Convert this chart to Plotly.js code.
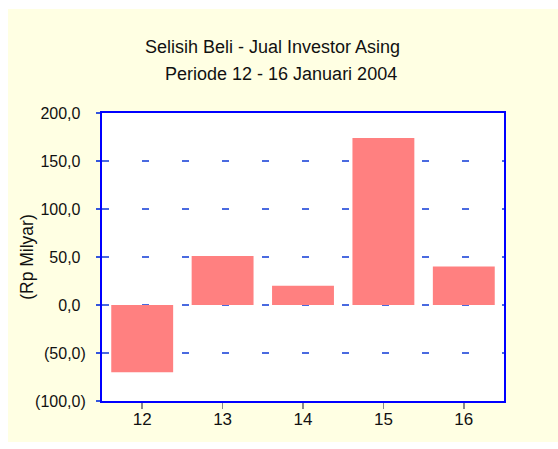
<!DOCTYPE html>
<html>
<head>
<meta charset="utf-8">
<script src="https://cdn.plot.ly/plotly-3.0.1.min.js"></script>
<style>
  html, body { margin: 0; padding: 0; background: #ffffff; width: 558px; height: 449px; overflow: hidden; }
  #chart { position: absolute; left: 8px; top: 9px; width: 550px; height: 433px; }
</style>
</head>
<body>
<div id="chart"></div>
<script>
// Data
const days = ['12', '13', '14', '15', '16'];
const netBuy = [-70, 51, 20, 174, 40];          // Rp Milyar
const yTickVals = [-100, -50, 0, 50, 100, 150, 200];
const yTickText = ['(100,0)', '(50,0)', '0,0', '50,0', '100,0', '150,0', '200,0'];
const titleLine1 = 'Selisih Beli - Jual Investor Asing';
const titleLine2 = 'Periode 12 - 16 Januari 2004';
const yTitle = '(Rp Milyar)';

const font = 'Arial, "Liberation Sans", sans-serif';

// accounting-style alignment: positive labels get an invisible ")" so digits line up
const pad = '<span style="color:rgba(0,0,0,0)">)</span>';
const yTickLabels = yTickText.map(t => t.endsWith(')') ? t : t + pad);

const trace = {
  type: 'bar',
  x: days,
  y: netBuy,
  marker: { color: '#FF8080', line: { width: 0 } },
  hoverinfo: 'x+y'
};

const layout = {
  width: 550,
  height: 433,
  paper_bgcolor: '#FFFFE3',
  plot_bgcolor: '#FFFFFF',
  margin: { l: 94, r: 54, t: 104, b: 41, pad: 0 },
  showlegend: false,
  bargap: 0.23,
  font: { family: font, color: '#111111', size: 16 },
  xaxis: {
    type: 'category',
    showline: true, linecolor: '#0000FF', linewidth: 2, mirror: true,
    ticks: 'outside', ticklen: 6, tickwidth: 1.5, tickcolor: '#888888',
    ticklabelstandoff: -4,
    tickfont: { family: font, size: 17, color: '#111111' },
    showgrid: false, zeroline: false,
    fixedrange: true
  },
  yaxis: {
    range: [-100, 200],
    tickmode: 'array', tickvals: yTickVals, ticktext: yTickLabels,
    showline: true, linecolor: '#0000FF', linewidth: 2, mirror: true,
    ticks: 'outside', ticklen: 4, tickwidth: 1.5, tickcolor: '#3355DD',
    ticklabelstandoff: 7,
    tickfont: { family: font, size: 16, color: '#111111' },
    showgrid: true, gridcolor: '#4A6AE0', gridwidth: 1.5, griddash: '7px,33px',
    zeroline: false,
    fixedrange: true
  },
  annotations: [
    { text: titleLine1, xref: 'paper', yref: 'paper', x: 0.425, y: 1.229,
      xanchor: 'center', yanchor: 'middle', showarrow: false,
      font: { family: font, size: 18, color: '#111111' } },
    { text: titleLine2, xref: 'paper', yref: 'paper', x: 0.445, y: 1.135,
      xanchor: 'center', yanchor: 'middle', showarrow: false,
      font: { family: font, size: 18, color: '#111111' } },
    { text: yTitle, xref: 'paper', yref: 'paper', x: -0.187, y: 0.5,
      xanchor: 'center', yanchor: 'middle', textangle: -90, showarrow: false,
      font: { family: font, size: 17.5, color: '#111111' } }
  ]
};

Plotly.newPlot('chart', [trace], layout, { displayModeBar: false, staticPlot: true });
</script>
</body>
</html>
